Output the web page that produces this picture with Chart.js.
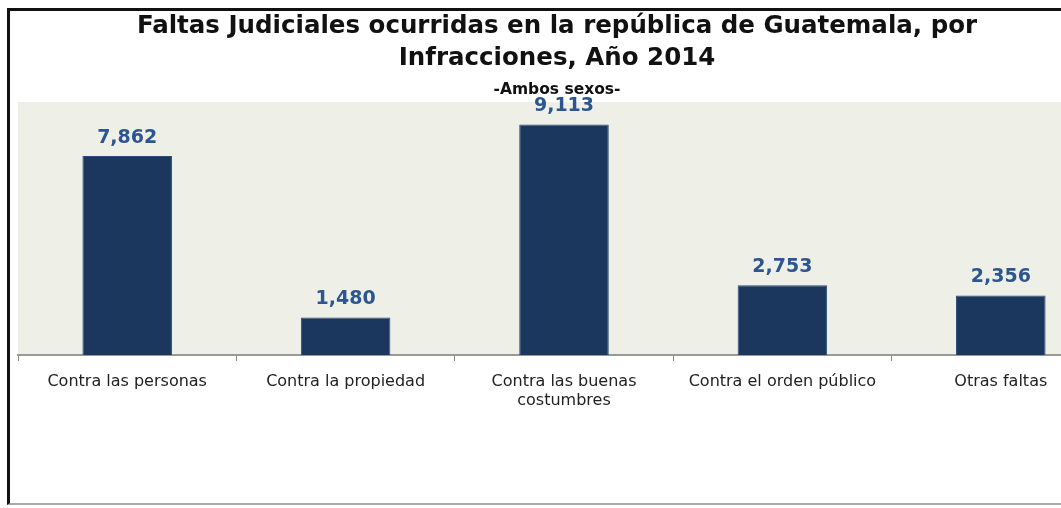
<!DOCTYPE html>
<html>
<head>
<meta charset="utf-8">
<script src="https://cdn.jsdelivr.net/npm/chart.js@4.4.1/dist/chart.umd.min.js"></script>
<style>
  html, body { margin: 0; padding: 0; width: 1061px; height: 508px; overflow: hidden; background: #fff; }
  #frame { position: absolute; left: 7px; top: 8px; width: 1200px; height: 497px;
           border-left: 3px solid #111; border-top: 3px solid #111; border-bottom: 2px solid #aaa; box-sizing: border-box; }
  #wrap { position: absolute; left: 0; top: 0; width: 1120px; height: 508px; }
</style>
</head>
<body>
<div id="frame"></div>
<div id="wrap"><canvas id="c" width="1120" height="508"></canvas></div>
<script>
const categories = [
  "Contra las personas",
  "Contra la propiedad",
  ["Contra las buenas", "costumbres"],
  "Contra el orden público",
  "Otras faltas"
];
const values = [7862, 1480, 9113, 2753, 2356];
const titleLines = ["Faltas Judiciales ocurridas en la república de Guatemala, por", "Infracciones, Año 2014"];
const subtitleText = "-Ambos sexos-";

const plotBg = {
  id: 'plotBg',
  beforeDraw(chart) {
    const a = chart.chartArea, ctx = chart.ctx;
    ctx.save();
    ctx.fillStyle = '#EEF0E8';
    ctx.fillRect(a.left, a.top, a.right - a.left, a.bottom - a.top);
    ctx.restore();
  }
};
const valueLabels = {
  id: 'valueLabels',
  afterDatasetsDraw(chart) {
    const ctx = chart.ctx;
    const meta = chart.getDatasetMeta(0);
    ctx.save();
    ctx.font = 'bold 19px "DejaVu Sans", sans-serif';
    ctx.fillStyle = '#2D5590';
    ctx.textAlign = 'center';
    ctx.textBaseline = 'middle';
    meta.data.forEach((bar, i) => {
      ctx.fillText(values[i].toLocaleString('en-US'), bar.x, bar.y - 18);
    });
    ctx.restore();
  }
};

new Chart(document.getElementById('c'), {
  type: 'bar',
  data: {
    labels: categories,
    datasets: [{
      data: values,
      backgroundColor: '#1B375E',
      borderColor: '#2A4A75',
      borderWidth: 1,
      categoryPercentage: 1,
      barPercentage: 0.41
    }]
  },
  options: {
    responsive: false,
    animation: false,
    devicePixelRatio: 1,
    layout: { padding: { left: 4, right: 10, top: 0, bottom: 0 } },
    plugins: {
      legend: { display: false },
      tooltip: { enabled: false },
      title: {
        display: true,
        text: titleLines,
        color: '#111',
        font: { family: '"DejaVu Sans", sans-serif', size: 24.5, weight: 'bold', lineHeight: 32 / 24.5 },
        padding: { top: 11, bottom: 0 }
      },
      subtitle: {
        display: true,
        text: subtitleText,
        color: '#111',
        font: { family: '"DejaVu Sans", sans-serif', size: 15.5, weight: 'bold', lineHeight: 17 / 15.5 },
        padding: { top: 6, bottom: 4 }
      }
    },
    scales: {
      y: {
        display: true, min: 0, max: 10000,
        grid: { display: false },
        border: { display: false },
        ticks: { display: false },
        afterFit(scale) { scale.width = 14; }
      },
      x: {
        offset: true,
        grid: { display: true, offset: true, drawOnChartArea: false, tickLength: 6, color: '#888' },
        border: { display: true, color: '#999', width: 2 },
        ticks: {
          color: '#222',
          font: { family: '"DejaVu Sans", sans-serif', size: 16, lineHeight: 1.2 },
          padding: 11,
          maxRotation: 0,
          autoSkip: false
        },
        afterFit(scale) { scale.height = 153; }
      }
    }
  },
  plugins: [plotBg, valueLabels]
});
</script>
</body>
</html>
